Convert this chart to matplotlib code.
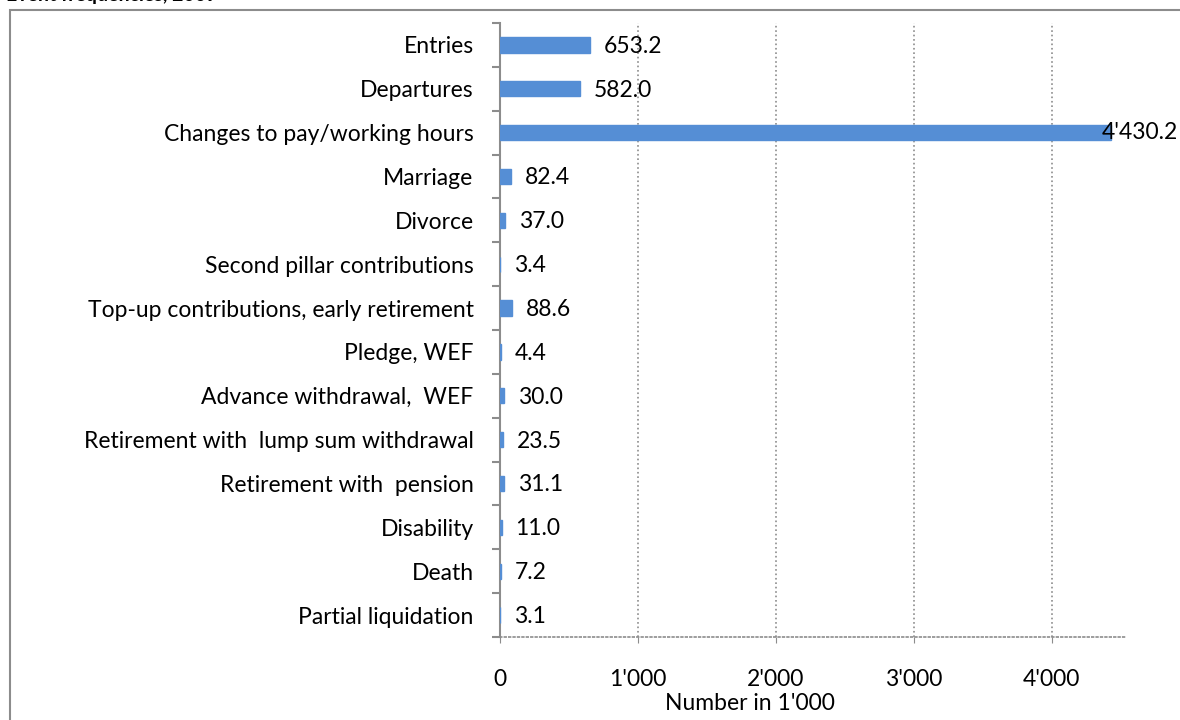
import matplotlib.pyplot as plt
from matplotlib.patches import Rectangle
from matplotlib.ticker import FuncFormatter

# ----------------------------
# DATA
# ----------------------------
categories = [
    "Entries",
    "Departures",
    "Changes to pay/working hours",
    "Marriage",
    "Divorce",
    "Second pillar contributions",
    "Top-up contributions, early retirement",
    "Pledge, WEF",
    "Advance withdrawal,  WEF",
    "Retirement with  lump sum withdrawal",
    "Retirement with  pension",
    "Disability",
    "Death",
    "Partial liquidation",
]
values = [653.2, 582.0, 4430.2, 82.4, 37.0, 3.4, 88.6, 4.4, 30.0, 23.5, 31.1, 11.0, 7.2, 3.1]
x_ticks = [0, 1000, 2000, 3000, 4000]

title = "Event frequencies, 2009"
x_label = "Number in 1'000"

bar_color = "#558ED5"
grid_color = "#8C8C8C"
fs = 16.5


def swiss(v, decimals=0):
    s = f"{v:,.{decimals}f}"
    return s.replace(",", "'")


# ----------------------------
# FIGURE
# ----------------------------
plt.rcParams["font.family"] = ["Lato", "DejaVu Sans"]
W, H = 1180, 720
fig = plt.figure(figsize=(W / 100, H / 100), dpi=100)

# outer chart frame (runs off the right/bottom edge)
fig.patches.append(Rectangle((10 / W, -0.1), 1.2, (H - 10) / H + 0.1,
                             transform=fig.transFigure, fill=False,
                             edgecolor="#8C8C8C", linewidth=1.5))
fig.text(6 / W, (H + 5) / H, title, fontsize=14, fontweight="bold",
         ha="left", va="center")

ax = fig.add_axes([500 / W, (H - 637) / H, (1125 - 500) / W, (637 - 23) / H])

y = list(range(len(categories)))
ax.barh(y, values, height=0.35, color=bar_color, edgecolor=bar_color,
        linewidth=1.0, zorder=3)
ax.set_ylim(len(categories) - 0.5, -0.5)
ax.set_xlim(0, 4530)

# value labels
vmax = max(values)
for i, v in enumerate(values):
    if v == vmax:
        ax.annotate(swiss(v, 1), (v, i), xytext=(-7, 0), textcoords="offset points",
                    ha="left", va="center", fontsize=fs, zorder=4,
                    annotation_clip=False)
    else:
        ax.annotate(swiss(v, 1), (v, i), xytext=(10, -1), textcoords="offset points",
                    ha="left", va="center", fontsize=fs, zorder=4)

# y axis: category labels, ticks on boundaries
ax.set_yticks(y)
ax.set_yticklabels(categories, fontsize=fs)
ax.tick_params(axis="y", which="major", length=0, pad=19)
ax.set_yticks([i - 0.5 for i in range(len(categories) + 1)], minor=True)
ax.tick_params(axis="y", which="minor", length=6, width=1.5, color=grid_color)

# x axis
ax.set_xticks(x_ticks)
ax.xaxis.set_major_formatter(FuncFormatter(lambda v, p: swiss(v)))
ax.tick_params(axis="x", length=4, color=grid_color, labelsize=fs, pad=19)
ax.set_xlabel(x_label, fontsize=fs, labelpad=0)
ax.xaxis.set_label_coords((750 - 500) / 625, -(703 - 637) / 614)
ax.xaxis.label.set_verticalalignment("center")
ax.xaxis.grid(True, linestyle=":", color=grid_color, linewidth=1.2, zorder=0)

for side in ["top", "right"]:
    ax.spines[side].set_visible(False)
ax.spines["left"].set_color(grid_color)
ax.spines["left"].set_linewidth(1.5)
ax.spines["bottom"].set_color(grid_color)
ax.spines["bottom"].set_linestyle(":")
ax.spines["bottom"].set_linewidth(1.2)

fig.savefig("out.png", dpi=100)
